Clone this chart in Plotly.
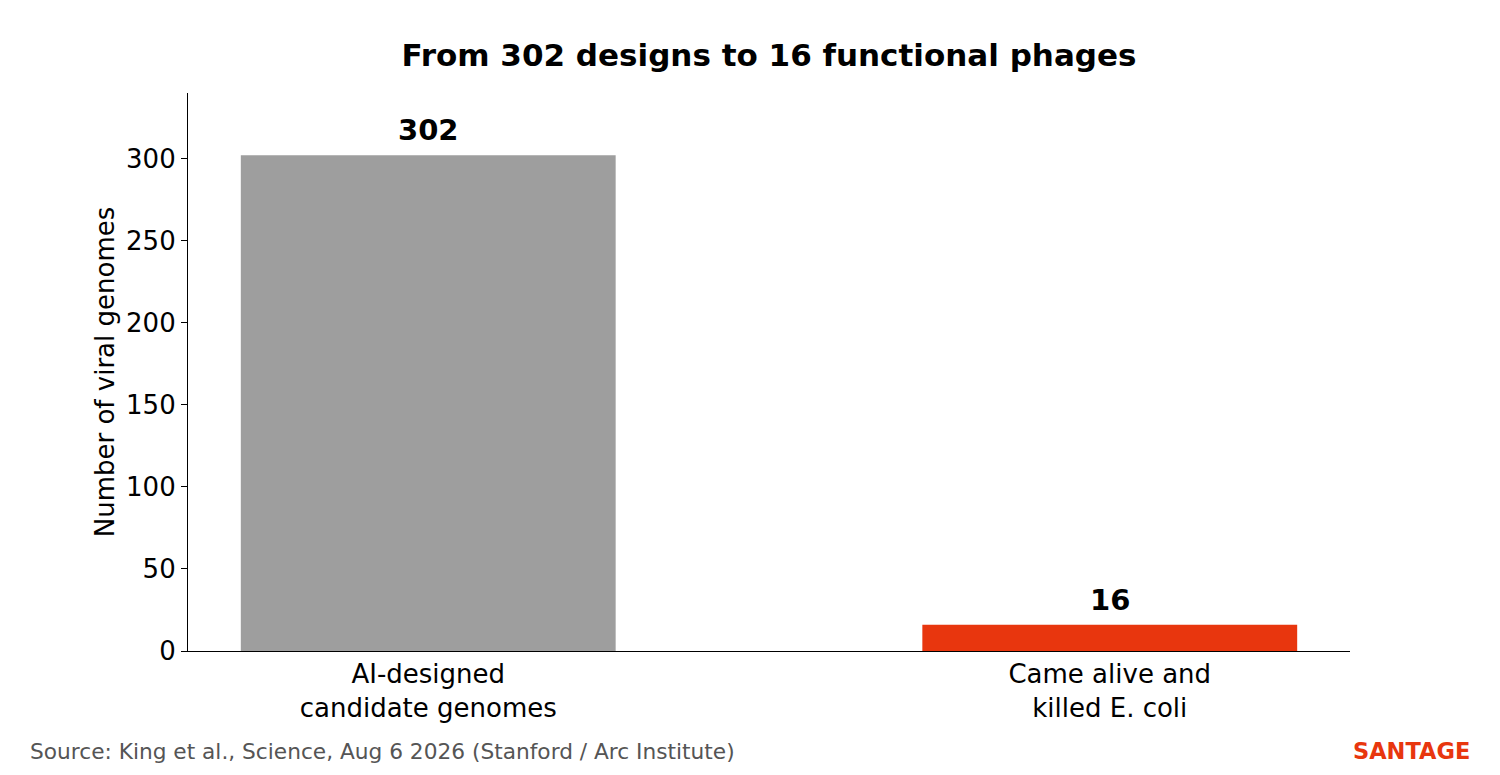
import plotly.graph_objects as go

categories = ["AI-designed<br>candidate genomes", "Came alive and<br>killed E. coli"]
counts = [302, 16]
bar_colors = ["#9e9e9e", "#e8360e"]
y_ticks = [0, 50, 100, 150, 200, 250, 300]

title = "From 302 designs to 16 functional phages"
source = "Source: King et al., Science, Aug 6 2026 (Stanford / Arc Institute)"

font = "DejaVu Sans"

# page body has an 8px margin, so the figure is drawn a bit smaller
W, H = 1484, 759
L, R, T, B = 180, 142, 85, 116

fig = go.Figure()
fig.add_trace(go.Bar(
    x=[0, 1], y=counts, width=0.55,
    marker=dict(color=bar_colors, line=dict(width=0)),
    hoverinfo="skip",
))

# value labels above the bars
for i, v in enumerate(counts):
    fig.add_annotation(x=i, y=v, text="<b>%d</b>" % v, showarrow=False,
                       xanchor="center", yanchor="bottom", yshift=6,
                       font=dict(family=font, size=29, color="black"))

plot_w = W - L - R
plot_h = H - T - B
foot_y = (H - B - 743) / plot_h

fig.add_annotation(x=(20 - L) / plot_w, y=foot_y, xref="paper", yref="paper",
                   text=source, showarrow=False, xanchor="left", yanchor="middle",
                   font=dict(family=font, size=21.7, color="#555555"))
fig.add_annotation(x=(1464 - L) / plot_w, y=foot_y, xref="paper", yref="paper",
                   text="<b>SANTAGE</b>", showarrow=False,
                   xanchor="right", yanchor="middle",
                   font=dict(family=font, size=22.5, color="#e8360e"))

fig.update_layout(
    width=W, height=H,
    margin=dict(l=L, r=R, t=T, b=B, autoexpand=False),
    paper_bgcolor="white", plot_bgcolor="white",
    showlegend=False,
    font=dict(family=font, size=26, color="black"),
    title=dict(text="<b>" + title + "</b>", x=0.5, xref="paper",
               y=1 - 47 / H, yanchor="middle",
               font=dict(family=font, size=31, color="black")),
    xaxis=dict(range=[-0.3525, 1.3525], tickmode="array", tickvals=[0, 1],
               ticktext=categories, ticks="", showline=True, linecolor="black",
               linewidth=1.2, showgrid=False, zeroline=False, fixedrange=True),
    yaxis=dict(range=[0, 340], tickmode="array", tickvals=y_ticks,
               ticks="outside", ticklen=6, tickwidth=1.2, tickcolor="black",
               showline=True, linecolor="black", linewidth=1.2,
               showgrid=False, zeroline=False,
               title=dict(text="Number of viral genomes", standoff=3,
                          font=dict(family=font, size=26))),
)

fig.write_html("out.html")
